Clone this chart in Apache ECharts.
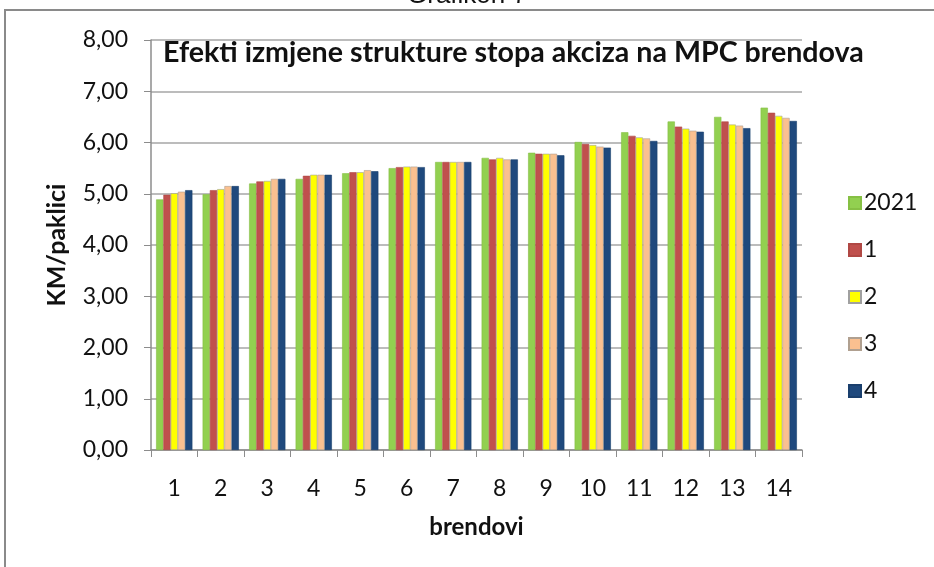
<!DOCTYPE html>
<html>
<head>
<meta charset="utf-8">
<script src="https://cdn.jsdelivr.net/npm/echarts@6/dist/echarts.min.js"></script>
<style>html,body{margin:0;padding:0;background:#fff}#c{width:934px;height:567px}</style>
</head>
<body>
<div id="c"></div>
<script>
var categories = ['1','2','3','4','5','6','7','8','9','10','11','12','13','14'];
var seriesNames = ['2021','1','2','3','4'];
var s2021 = [4.89,4.99,5.20,5.29,5.40,5.50,5.62,5.70,5.80,6.01,6.20,6.41,6.50,6.68];
var s1    = [4.98,5.07,5.24,5.35,5.42,5.52,5.62,5.67,5.78,5.97,6.13,6.31,6.41,6.58];
var s2    = [5.01,5.09,5.25,5.37,5.42,5.53,5.62,5.70,5.78,5.95,6.10,6.27,6.35,6.52];
var s3    = [5.04,5.15,5.29,5.37,5.46,5.53,5.62,5.67,5.78,5.92,6.08,6.23,6.33,6.48];
var s4    = [5.07,5.15,5.29,5.37,5.44,5.52,5.62,5.67,5.75,5.90,6.03,6.21,6.28,6.42];
var yTicks = ['0,00','1,00','2,00','3,00','4,00','5,00','6,00','7,00','8,00'];

var colors = ['#92D050','#C0504D','#FFFF00','#FAC090','#1F497D'];
var borders = ['#86c044','#b04844','#a0a0a0','#b0a090','#1a3f6d'];
var dataSets = [s2021,s1,s2,s3,s4];
var font = 'Lato, "Open Sans", sans-serif';

var chart = echarts.init(document.getElementById('c'), null, {renderer:'canvas'});
chart.setOption({
  animation:false,
  backgroundColor:'#fff',
  textStyle:{fontFamily:font},
  graphic:[
    {type:'rect', shape:{x:5,y:10,width:940,height:570}, style:{fill:'none', stroke:'#8a8a8a', lineWidth:2}, z:-1},
    {type:'text', x:467, y:9, style:{text:'Grafikon 7', font:'26px "Liberation Sans", Arial, sans-serif', fill:'#111', textAlign:'center', textVerticalAlign:'bottom'}},
    {type:'text', x:163, y:53, style:{text:'Efekti izmjene strukture stopa akciza na MPC brendova', font:'bold 28.6px '+font, fill:'#111', textVerticalAlign:'middle'}}
  ],
  legend:{
    orient:'vertical', left:843, top:186,
    itemWidth:12, itemHeight:12, itemGap:23, icon:'rect',
    textStyle:{fontSize:23, color:'#111', fontFamily:font, lineHeight:24, padding:[0,0,0,-2]},
    data:seriesNames
  },
  grid:{left:151, right:132, top:40, bottom:117, containLabel:false},
  xAxis:{
    type:'category', data:categories,
    name:'brendovi', nameLocation:'middle', nameGap:65,
    nameTextStyle:{fontSize:24, fontWeight:'bold', color:'#111', fontFamily:font},
    axisLine:{lineStyle:{color:'#8c8c8c', width:1.5}},
    axisTick:{show:true, alignWithLabel:false, length:7, lineStyle:{color:'#8c8c8c'}},
    axisLabel:{fontSize:23, color:'#111', margin:27, fontFamily:font}
  },
  yAxis:{
    type:'value', min:0, max:8, interval:1,
    name:'KM/paklici', nameLocation:'middle', nameGap:82,
    nameTextStyle:{fontSize:25, fontWeight:'bold', color:'#111', fontFamily:font},
    axisLine:{show:true, lineStyle:{color:'#8c8c8c', width:1.5}},
    axisTick:{show:true, length:7, lineStyle:{color:'#8c8c8c'}},
    axisLabel:{fontSize:23, color:'#111', margin:23, fontFamily:font,
      formatter:function(v){return yTicks[Math.round(v)];}},
    splitLine:{show:true, lineStyle:{color:'#a6a6a6', width:1.5}}
  },
  series:dataSets.map(function(d,i){
    return {
      name:seriesNames[i], type:'bar', data:d,
      barGap:'0%', barCategoryGap:'22%',
      itemStyle:{color:colors[i], borderColor:borders[i], borderWidth:0.6},
      emphasis:{disabled:true}
    };
  })
});
</script>
</body>
</html>
